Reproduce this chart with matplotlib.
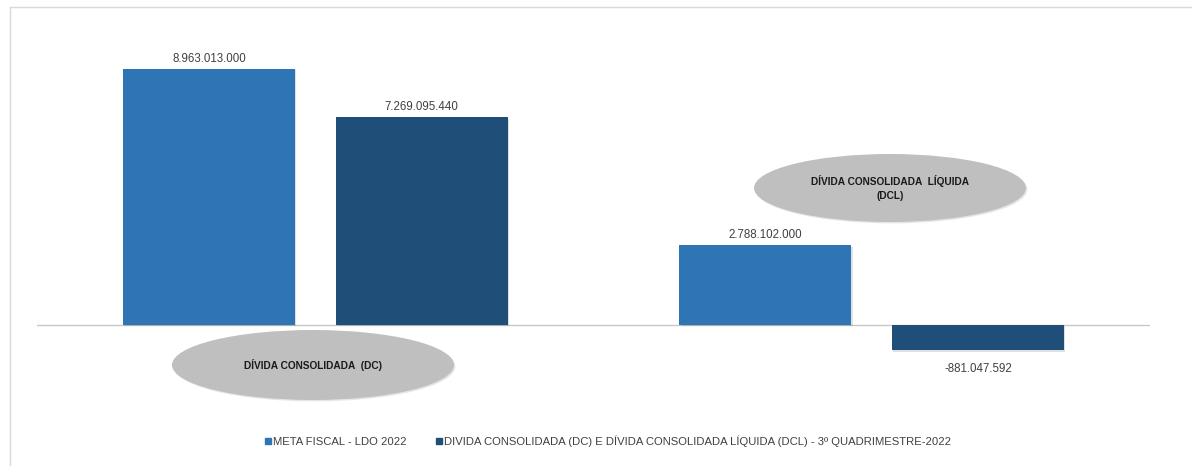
import matplotlib
matplotlib.use("Agg")
import matplotlib.pyplot as plt
from matplotlib.patches import Ellipse, Rectangle
from matplotlib.lines import Line2D
import matplotlib.patheffects as pe
import numpy as np

plt.rcParams["font.family"] = ["Liberation Sans", "DejaVu Sans"]

categories = ["DÍVIDA CONSOLIDADA  (DC)", "DÍVIDA CONSOLIDADA  LÍQUIDA\n(DCL)"]
series_names = [
    "META FISCAL - LDO 2022",
    "DIVIDA CONSOLIDADA (DC) E DÍVIDA CONSOLIDADA LÍQUIDA (DCL) - 3º QUADRIMESTRE-2022",
]
meta_fiscal = [8963013000, 2788102000]
realizado = [7269095440, -881047592]
colors = ["#2E75B6", "#1F4E79"]

W, H = 1192, 466
fig = plt.figure(figsize=(W / 100, H / 100), dpi=100)

# plot area in pixels: x 37..1150, y 40..410 (from top)
ax = fig.add_axes([37 / W, (H - 410) / H, (1150 - 37) / W, 370 / H])
scale = 256 / 8.963e9
ax.set_ylim(-(410 - 325) / scale, (325 - 40) / scale)
ax.set_xlim(-0.5, 1.5)
ax.axis("off")

ax.axhline(0, color="#C8C8C8", linewidth=1, zorder=1)

x = np.arange(len(categories))
width = 0.309
offset = 0.191
shadow = [pe.SimplePatchShadow(offset=(1, -1), shadow_rgbFace="#000000", alpha=0.12), pe.Normal()]
for vals, dx, col in [(meta_fiscal, -offset, colors[0]), (realizado, offset, colors[1])]:
    bars = ax.bar(x + dx, vals, width, color=col, zorder=2)
    for b, v in zip(bars, vals):
        b.set_path_effects(shadow)
        label = f"{v:,}".replace(",", ".")
        if v >= 0:
            ax.annotate(label, (b.get_x() + b.get_width() / 2, v), xytext=(0, 3),
                        textcoords="offset points", ha="center", va="bottom",
                        fontsize=8.3, color="#404040")
        else:
            ax.annotate(label, (b.get_x() + b.get_width() / 2, v), xytext=(0, -9),
                        textcoords="offset points", ha="center", va="top",
                        fontsize=8.3, color="#404040")

# category callouts
def fig_ellipse(cx, cy, w, h, text):
    e = Ellipse((cx / W, 1 - cy / H), w / W, h / H, transform=fig.transFigure,
                facecolor="#BFBFBF", edgecolor="none", zorder=5)
    e.set_path_effects([pe.SimplePatchShadow(offset=(1, -1), alpha=0.12), pe.Normal()])
    fig.patches.append(e)
    fig.text(cx / W, 1 - cy / H, text, ha="center", va="center", fontsize=7.3,
             fontweight="bold", color="#1a1a1a", linespacing=1.5, zorder=6)

fig_ellipse(313, 365, 282, 70, categories[0])
fig_ellipse(890, 188, 272, 68, categories[1])

# frame lines
fig.add_artist(Line2D([10 / W, 10 / W], [0, 1 - 7 / H], transform=fig.transFigure,
                      color="#D9D9D9", linewidth=1))
fig.add_artist(Line2D([10 / W, 1], [1 - 7 / H, 1 - 7 / H], transform=fig.transFigure,
                      color="#D9D9D9", linewidth=1))

handles = [Rectangle((0, 0), 1, 1, color=c) for c in colors]
fig.legend(handles, series_names, loc="center", bbox_to_anchor=(608 / W, 1 - 441 / H),
           ncol=2, frameon=False, fontsize=8.1, handlelength=0.5, handleheight=0.5,
           handletextpad=0.2, columnspacing=2.6, labelcolor="#404040")

fig.savefig("out.png", dpi=100)
